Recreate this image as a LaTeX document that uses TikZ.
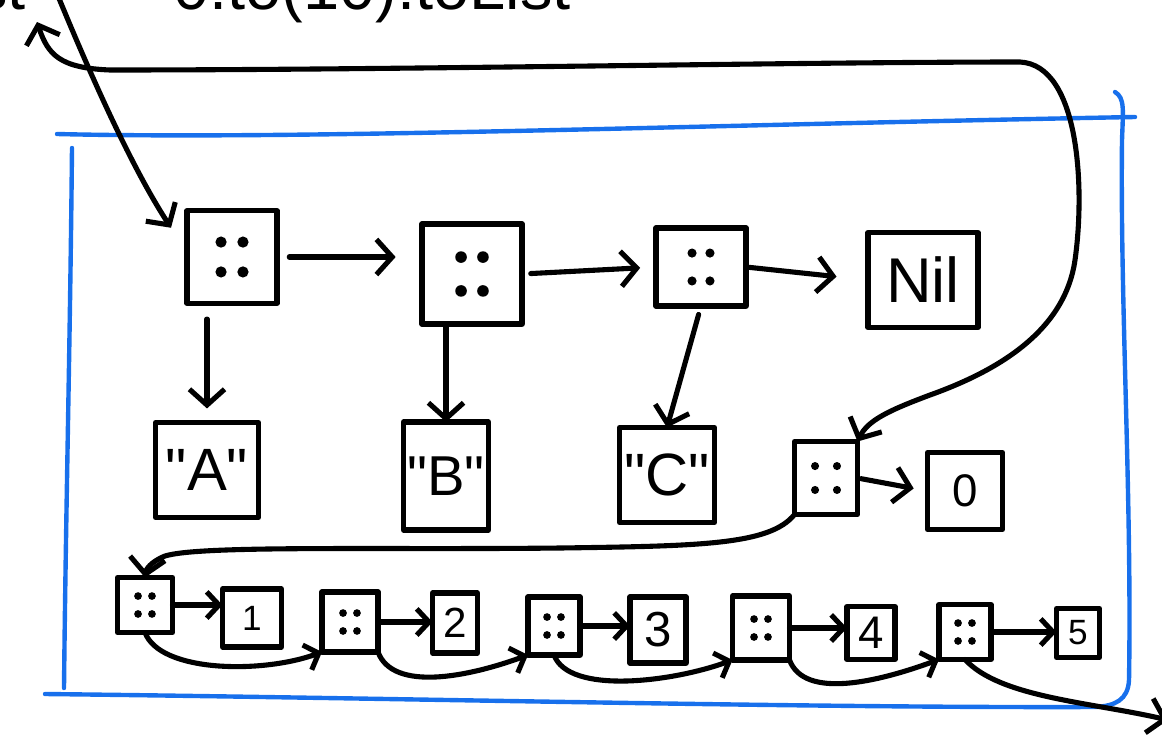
\documentclass[tikz,border=0pt]{standalone}
\usepackage{fontspec}
\setmainfont{Liberation Sans}
\usetikzlibrary{calc}
\usetikzlibrary{arrows.meta}

\definecolor{frameblue}{RGB}{24,112,236}
% straight double quote, past the TeX ligature mapping
\newcommand\dq{\XeTeXglyph\XeTeXcharglyph"22\relax}

\tikzset{
  ink/.style={black, line width=2.9pt, line cap=round, line join=round},
  tip/.style={-{Straight Barb[length=9pt,width=20pt]}},
  smalltip/.style={-{Straight Barb[length=7pt,width=15pt]}},
  box/.style 2 args={ink, draw, inner sep=0pt, outer sep=0pt, minimum width=#1, minimum height=#2},
  % cons cell: size, dot offsets (px), dot radius
  cell/.style n args={5}{box={#1}{#2}, path picture={
      \foreach \sx in {-1,1} \foreach \sy in {-1,1}
        \fill (path picture bounding box.center) ++({\sx*#3*0.567pt},{\sy*#4*0.567pt}) circle (#5);}},
  val/.style n args={3}{box={#1}{#2}, font=\fontsize{#3}{#3}\selectfont},
  frame/.style={frameblue, line width=2.5pt, line cap=round},
}

\begin{document}
\begin{tikzpicture}[x=0.02cm, y=-0.02cm]
\useasboundingbox (0,0) rectangle (1162,734);

% heap frame
\draw[frame] (57,134) .. controls (300,140) and (700,125) .. (1135,117);
\draw[frame] (1115,92) .. controls (1125,98) and (1123,110) .. (1122,140) .. controls (1120,300) and (1132,500) .. (1129,680) .. controls (1128,700) and (1115,706) .. (1095,707) .. controls (800,708) and (400,698) .. (45,694);
\draw[frame] (72,148) .. controls (70,350) and (66,500) .. (64,688);

% variable
\node[anchor=base east, inner sep=0, font=\fontsize{37}{37}\selectfont] (lhs) at (26,9) {list};
\node[anchor=base west, inner sep=0, font=\fontsize{37}{37}\selectfont] (rhs) at (173,9) {0.to(10).toList};

% outer list
\node[cell={1.8cm}{1.85cm}{11}{15}{3.2pt}] (cellA) at (232,257) {};
\node[cell={2.0cm}{2.0cm}{11}{17}{3.3pt}] (cellB) at (472,274) {};
\node[cell={1.8cm}{1.56cm}{9}{14}{2.6pt}] (cellC) at (701,267) {};
\node[val={2.2cm}{1.9cm}{36}] (nil) at (923,280) {Nil};
\node[val={2.06cm}{1.9cm}{34}] (strA) at (207,470) {\dq A\dq};
\node[val={1.7cm}{2.16cm}{32}] (strB) at (446,476) {\dq B\dq};
\node[val={1.9cm}{1.9cm}{34}] (strC) at (667,475) {\dq C\dq};
\node[cell={1.26cm}{1.46cm}{11}{12}{2.3pt}] (cellD) at (826,478) {};
\node[val={1.5cm}{1.54cm}{26}] (zero) at (965,491) {0};

% range list
\foreach \k/\x/\y/\w/\h in {1/145/605/1.1/1.1, 2/350/622/1.12/1.2, 3/554/626/1.04/1.16, 4/761/628/1.14/1.28, 5/965/632/1.04/1.1}
  \node[cell={\w cm}{\h cm}{7}{9}{2.2pt}] (s\k) at (\x,\y) {};
\foreach \k/\x/\y/\w/\h/\f in {1/252/618/1.18/1.16/20, 2/455/623/0.9/1.2/24, 3/658/630/1.12/1.32/28, 4/871/633/0.96/1.06/26, 5/1078/633/0.86/0.98/20}
  \node[val={\w cm}{\h cm}{\f}] (v\k) at (\x,\y) {\k};

% pointers
\coordinate (lead) at (58,-4);
\coordinate (hook) at (37,22);
\coordinate (exit) at (1168,720);
\draw[ink,tip] (lead) .. controls (105,110) and (140,180) .. ($(cellA.north west)+(-16,17)$);
\draw[ink,{Straight Barb[length=9pt,width=20pt]}-{Straight Barb[length=9pt,width=20pt]}] (hook) .. controls (48,55) and (60,68) .. (110,70) .. controls (400,70) and (800,62) .. (1020,62) .. controls (1080,65) and (1085,190) .. (1075,260) .. controls (1065,330) and (1000,370) .. (930,395) .. controls (890,410) and (868,420) .. (cellD.north east);

\draw[ink,tip,shorten <=7pt,shorten >=15pt] (cellA.east) -- (cellA.east -| cellB.west);
\draw[ink,tip,shorten <=5pt,shorten >=9pt] (cellB.east) -- (cellC.west);
\draw[ink,tip,shorten <=1pt,shorten >=18pt] (cellC.east) -- (nil.west);
\draw[ink,tip,shorten <=9pt,shorten >=8pt] (cellA.south -| strA.north) -- (strA.north);
\draw[ink,tip,shorten <=2pt] (cellB.south -| strB.north) -- (strB.north);
\draw[ink,tip,shorten <=5pt] (cellC.south) -- (strC.north);
\draw[ink,tip,shorten <=2pt,shorten >=8pt] (cellD.east) -- (zero.west);
\draw[ink,tip] (cellD.south west) .. controls (770,545) and (700,546) .. (560,548) .. controls (380,550) and (200,545) .. (165,556) .. controls (150,562) and (146,570) .. (s1.north);

\foreach \k in {1,...,5}
  \draw[ink,smalltip] (s\k.east) -- (s\k.east -| v\k.west);
\foreach \a/\b/\p in {1/2/south, 2/3/south east, 3/4/south, 4/5/south east}
  \draw[ink,smalltip] (s\a.\p) .. controls +(15,40) and +(-60,22) .. (s\b.south west);
\draw[ink,tip] (s5.south) .. controls +(35,38) and (1090,702) .. (exit);
\end{tikzpicture}
\end{document}
